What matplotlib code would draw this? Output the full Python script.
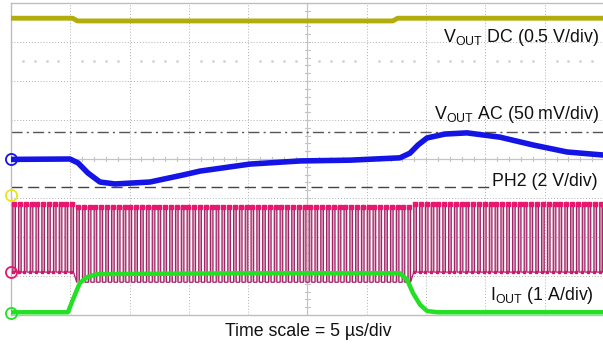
import numpy as np
import matplotlib
matplotlib.use("Agg")
import matplotlib.pyplot as plt

plt.rcParams["font.family"] = ["Liberation Sans", "DejaVu Sans"]
plt.rcParams["mathtext.fontset"] = "custom"
plt.rcParams["mathtext.rm"] = "Liberation Sans"

# ---- scope data: time in us (5 us/div, 10 div), amplitude in divisions (8 div) ----
vdc_t = [0, 5.2, 5.6, 32.2, 32.6, 50]
vdc_y = [7.61, 7.61, 7.54, 7.54, 7.61, 7.61]

vac_t = [0, 4.97, 5.65, 6.49, 7.5, 8.77, 11.72, 14.5, 15.94, 20.15, 24.37, 28.58,
         32.8, 33.64, 34.32, 35.08, 36.6, 38.45, 41.23, 44.01, 46.88, 50]
vac_y = [3.99, 4.0, 3.9, 3.64, 3.41, 3.36, 3.41, 3.59, 3.69, 3.87, 3.95, 3.97,
         4.03, 4.15, 4.36, 4.54, 4.64, 4.67, 4.56, 4.36, 4.18, 4.10]

iout_t = [0, 4.8, 5.2, 5.8, 6.4, 7.3, 20, 32.8, 33.4, 33.9, 34.5, 35.1, 36, 50]
iout_y = [0.07, 0.07, 0.38, 0.82, 0.97, 1.05, 1.07, 1.07, 0.9, 0.56, 0.26, 0.1, 0.07, 0.07]

# PH2 switch node: ~2 MHz square wave
ph2_period = 0.49
ph2_duty = 0.45
ph2_high = 2.84
ph2_high_loaded = 2.78
ph2_low = 1.10
ph2_low_loaded = 0.84
load_on, load_off = 5.5, 33.5

labels = [r"V$_{\mathrm{OUT}}$ DC (0.5 V/div)", r"V$_{\mathrm{OUT}}$ AC (50 mV/div)",
          "PH2 (2 V/div)", r"I$_{\mathrm{OUT}}$ (1 A/div)"]
label_px = [(599, 37), (599, 115), (598, 182), (594, 295)]

fig = plt.figure(figsize=(6.03, 3.5), dpi=100)
ax = fig.add_axes([11 / 603, 35 / 350, 593 / 603, 312 / 350])
ax.set_xlim(0, 50); ax.set_ylim(0, 8)
ax.set_xticks([]); ax.set_yticks([])
for s in ["left", "top", "bottom"]:
    ax.spines[s].set_color("#bdbdbd"); ax.spines[s].set_linewidth(1.0)
ax.spines["right"].set_visible(False)

# graticule
for i in range(1, 10):
    ax.axvline(5 * i, color="#b0b0b0", lw=0.7, ls=(0, (1, 2)), zorder=0)
for j in range(1, 8):
    ax.axhline(j, color="#b0b0b0", lw=0.7, ls=(0, (1, 2)), zorder=0)
ax.axhline(4, color="#c4c4c4", lw=0.9, zorder=0)
ax.axvline(25, color="#c4c4c4", lw=0.9, zorder=0)
for k in np.arange(1, 50, 1.0):
    ax.plot([k, k], [3.94, 4.06], color="#c4c4c4", lw=0.8, zorder=0)
for k in np.arange(0.2, 8, 0.2):
    ax.plot([24.75, 25.25], [k, k], color="#c4c4c4", lw=0.8, zorder=0)
dots = [k for k in np.arange(1, 50, 1.0) if k % 5]
ax.plot(dots, [6.51] * len(dots), ls="none", marker="s", ms=0.9, color="#d4d4d4", zorder=0)

# reference markers
ax.axhline(4.69, color="#555555", lw=1.0, ls=(0, (8, 3, 1.5, 3)), zorder=1)
ax.plot([0, 40.3], [3.28, 3.28], color="#444444", lw=1.0, ls=(0, (8, 4)), zorder=1)

# PH2 switching waveform
starts = np.arange(0.15, 50, ph2_period)
st, sy = [], []
for t0 in starts:
    loaded = load_on < t0 < load_off
    hi = ph2_high_loaded if loaded else ph2_high
    lo = ph2_low_loaded if loaded else ph2_low
    t1 = t0 + ph2_duty * ph2_period
    ax.fill_between([t0, t1], lo, hi, color="#e4a8c5", lw=0, zorder=2)
    st += [t0, t0, t1, t1]; sy += [lo, hi, hi, lo]
ax.plot(st, sy, color="#a02566", lw=0.9, zorder=3)
ax.plot(starts + ph2_duty * ph2_period / 2,
        [ph2_high_loaded if load_on < t < load_off else ph2_high for t in starts],
        ls="none", marker="s", ms=2.2, color="#e8166f", zorder=4)
idle = [t for t in starts if not load_on < t < load_off]
ax.plot(idle, [ph2_low] * len(idle), ls="none", marker="s", ms=1.8, color="#d8136a", zorder=4)

# traces
ax.plot(vdc_t, vdc_y, color="#b3ad0c", lw=3.5, solid_capstyle="butt", zorder=5)
ax.plot(vac_t, vac_y, color="#1414e6", lw=4.0, solid_capstyle="butt", zorder=5)
ax.plot(iout_t, iout_y, color="#22e022", lw=3.2, solid_capstyle="butt", zorder=5)

# channel ground markers
for y, c in [(4.0, "#1414e6"), (3.08, "#e6e61a"), (1.10, "#e8166f"), (0.05, "#22e022")]:
    ax.plot([0], [y], marker="o", ms=8, mfc="none", mec=c, mew=1.3, clip_on=False, zorder=6)

for txt, (px, py) in zip(labels, label_px):
    fig.text(px / 603, 1 - py / 350, txt, ha="right", va="center", fontsize=12.8, color="#111111")
fig.text(308 / 603, 1 - 331 / 350, "Time scale = 5 µs/div", ha="center", va="center",
         fontsize=12.8, color="#111111")

fig.savefig("out.png", dpi=100)
